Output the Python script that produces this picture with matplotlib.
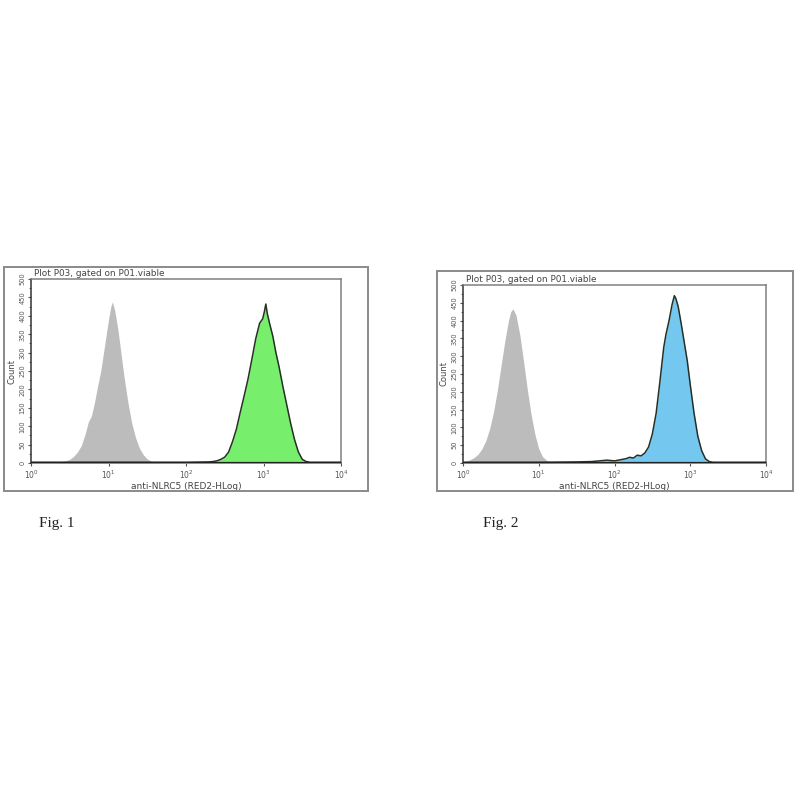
from __future__ import annotations

import matplotlib

matplotlib.use("Agg")
import matplotlib.pyplot as plt
import numpy as np
from matplotlib.patches import Rectangle
from matplotlib.ticker import FixedLocator, MultipleLocator

# log10 channel positions and counts
fig1_gray_log = [0.35, 0.40, 0.45, 0.50, 0.55, 0.60, 0.65, 0.70, 0.74, 0.78, 0.82, 0.86, 0.90, 0.95,
                 1.00, 1.03, 1.05, 1.08, 1.12, 1.16, 1.20, 1.25, 1.30, 1.35, 1.40, 1.45, 1.50, 1.55, 1.60, 1.65]
fig1_gray_count = [2, 4, 6, 10, 18, 30, 48, 80, 112, 128, 165, 210, 250, 320,
                   390, 425, 438, 415, 365, 300, 235, 165, 108, 68, 40, 22, 11, 5, 3, 2]

fig1_green_log = [0.00, 1.00, 2.00, 2.30, 2.35, 2.40, 2.45, 2.50, 2.55, 2.60, 2.65, 2.70, 2.75, 2.80,
                  2.85, 2.90, 2.95, 2.99, 3.01, 3.03, 3.05, 3.08, 3.12, 3.16, 3.20, 3.25, 3.30,
                  3.35, 3.40, 3.45, 3.50, 3.55, 3.60, 3.70, 4.00]
fig1_green_count = [2, 2, 2, 3, 4, 6, 10, 16, 30, 58, 92, 138, 182, 228,
                    282, 338, 380, 392, 410, 432, 405, 378, 345, 300, 262, 208, 158,
                    108, 64, 30, 10, 4, 2, 2, 2]

fig2_gray_log = [0.00, 0.05, 0.10, 0.15, 0.20, 0.25, 0.30, 0.35, 0.40, 0.45, 0.50, 0.55, 0.60,
                 0.63, 0.66, 0.70, 0.75, 0.80, 0.85, 0.90, 0.95, 1.00, 1.05, 1.10, 1.15, 1.20]
fig2_gray_count = [3, 6, 10, 16, 25, 40, 62, 95, 140, 200, 270, 340, 400,
                   425, 433, 415, 360, 285, 205, 135, 80, 40, 18, 8, 4, 2]

fig2_blue_log = [0.00, 1.00, 1.50, 1.70, 1.80, 1.90, 2.00, 2.10, 2.15, 2.20, 2.25, 2.30, 2.35, 2.40,
                 2.45, 2.50, 2.55, 2.60, 2.65, 2.68, 2.72, 2.76, 2.79, 2.81, 2.84, 2.88, 2.92,
                 2.96, 3.00, 3.05, 3.10, 3.15, 3.20, 3.25, 3.30, 3.50, 4.00]
fig2_blue_count = [2, 2, 3, 4, 6, 8, 6, 10, 12, 16, 14, 22, 20, 28,
                   45, 82, 140, 230, 325, 362, 400, 445, 470, 462, 440, 392, 340,
                   288, 220, 140, 75, 35, 12, 4, 2, 2, 2]

x_tick_labels = ["$10^0$", "$10^1$", "$10^2$", "$10^3$", "$10^4$"]
y_ticks = [0, 50, 100, 150, 200, 250, 300, 350, 400, 450, 500]

W = 800.0


def fig_rect(x0, y0, x1, y1):
    # pixel box (top-left origin) -> figure fraction [left, bottom, width, height]
    return [x0 / W, (W - y1) / W, (x1 - x0) / W, (y1 - y0) / W]


def draw_panel(fig, inner_px, outer_px, gray, colored, fill_color, fig_label, label_xy):
    x0, y0, x1, y1 = outer_px
    fig.patches.append(
        Rectangle((x0 / W, (W - y1) / W), (x1 - x0) / W, (y1 - y0) / W,
                  transform=fig.transFigure, fill=False, edgecolor="#8a8a8a", linewidth=1.4)
    )

    ax = fig.add_axes(fig_rect(*inner_px))
    gx = 10 ** np.array(gray[0])
    ax.fill_between(gx, 0, gray[1], color="#bcbcbc", linewidth=0, zorder=2)

    cx = 10 ** np.array(colored[0])
    ax.fill_between(cx, 0, colored[1], color=fill_color, linewidth=0, zorder=3)
    ax.plot(cx, colored[1], color="#263026", linewidth=1.1, zorder=4)
    ax.axhline(0, color="#222222", linewidth=1.6, zorder=5)

    ax.set_xscale("log")
    ax.set_xlim(1, 1e4)
    ax.set_ylim(0, 500)
    ax.xaxis.set_major_locator(FixedLocator([1, 10, 100, 1000, 10000]))
    ax.set_xticklabels(x_tick_labels)
    ax.xaxis.set_minor_locator(FixedLocator([]))
    ax.set_yticks(y_ticks)
    ax.set_yticklabels([str(v) for v in y_ticks], rotation=90, va="center")
    ax.yaxis.set_minor_locator(MultipleLocator(25))

    ax.tick_params(axis="x", which="major", labelsize=5.5, length=2.5, width=0.8,
                   colors="#555555", pad=1.5)
    ax.tick_params(axis="y", which="major", labelsize=4.8, length=2.5, width=0.8,
                   colors="#555555", pad=1.5)
    ax.tick_params(axis="y", which="minor", length=1.5, width=0.6, colors="#555555")
    for side, spine in ax.spines.items():
        spine.set_color("#333333" if side in ("left", "bottom") else "#808080")
        spine.set_linewidth(1.1)

    ax.set_xlabel("anti-NLRC5 (RED2-HLog)", fontsize=6.5, color="#444444", labelpad=1)
    ax.set_ylabel("Count", fontsize=6, color="#444444", labelpad=2)
    ax.text(0.01, 1.005, "Plot P03, gated on P01.viable", transform=ax.transAxes,
            fontsize=6.4, color="#444444", ha="left", va="bottom")

    fig.text(label_xy[0] / W, 1 - label_xy[1] / W, fig_label, fontsize=11,
             family="Liberation Serif", color="#222222", ha="left", va="center")


def main() -> None:
    fig = plt.figure(figsize=(8, 8), dpi=100)
    fig.patch.set_facecolor("white")

    draw_panel(fig, (31, 279, 341, 463), (4, 267, 368, 491),
               (fig1_gray_log, fig1_gray_count), (fig1_green_log, fig1_green_count),
               "#78ef6c", "Fig. 1", (39, 524))
    draw_panel(fig, (463, 285, 766, 463), (437, 271, 793, 491),
               (fig2_gray_log, fig2_gray_count), (fig2_blue_log, fig2_blue_count),
               "#74c8ef", "Fig. 2", (483, 524))

    fig.savefig("out.png", dpi=100)
    plt.close(fig)


if __name__ == "__main__":
    main()
